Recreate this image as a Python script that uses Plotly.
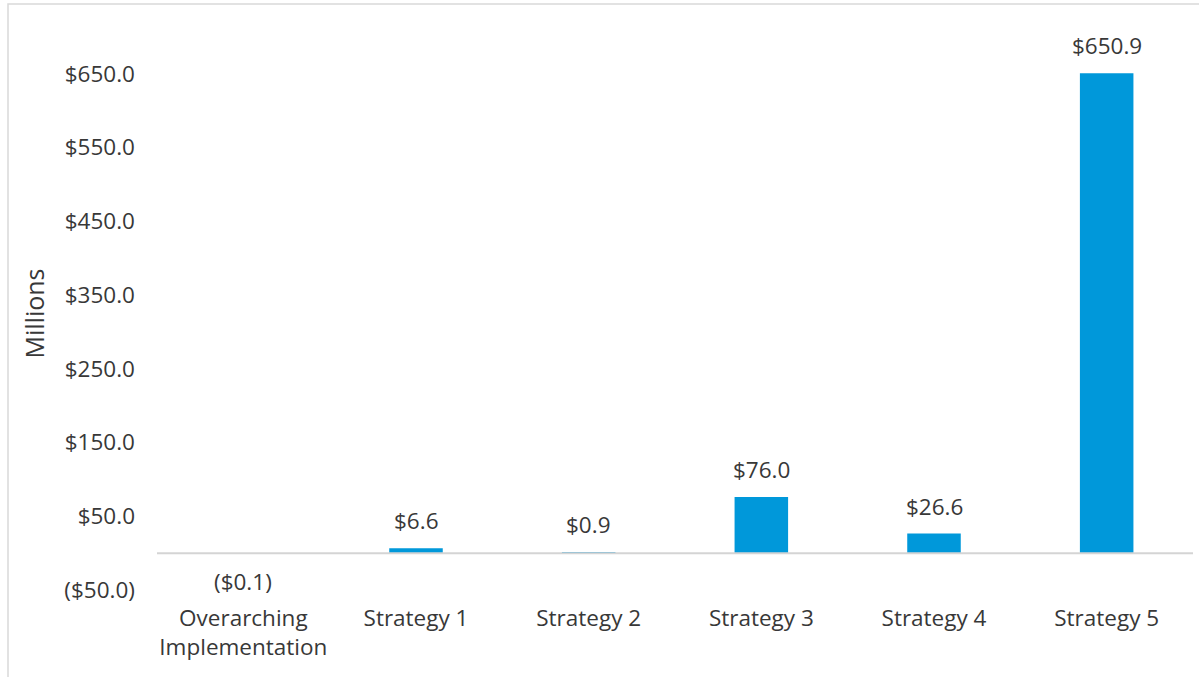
import plotly.graph_objects as go

categories = ["Overarching<br>Implementation", "Strategy 1", "Strategy 2", "Strategy 3", "Strategy 4", "Strategy 5"]
values = [-0.1, 6.6, 0.9, 76.0, 26.6, 650.9]
value_labels = ["($0.1)", "$6.6", "$0.9", "$76.0", "$26.6", "$650.9"]
tick_vals = [-50, 50, 150, 250, 350, 450, 550, 650]
tick_text = ["($50.0)", "$50.0", "$150.0", "$250.0", "$350.0", "$450.0", "$550.0", "$650.0"]

W, H = 1199, 677
L, R, T, B = 157, 6, 37, 87
FONT = "Open Sans"
TXT = "#383838"
BAR = "#0098DA"
FS = 22.5

fig = go.Figure()
fig.add_trace(go.Bar(x=categories, y=values, marker_color=BAR, marker_line_width=0,
                     hoverinfo="skip"))

for c, v, t in zip(categories, values, value_labels):
    fig.add_annotation(x=c, y=0 if v < 0 else v, text=t, showarrow=False,
                       yanchor="bottom" if v >= 0 else "top",
                       yshift=10 if v >= 0 else -11,
                       font=dict(family=FONT, size=FS, color=TXT))

pw = W - L - R
ph = H - T - B
def px_x(p):
    return (p - L) / pw
def px_y(p):
    return (H - B - p) / ph

fig.add_shape(type="rect", xref="paper", yref="paper",
              x0=px_x(8), x1=px_x(1210), y0=px_y(690), y1=px_y(4),
              line=dict(color="#d9d9d9", width=1.5), fillcolor="rgba(0,0,0,0)", layer="below")

# zero baseline drawn above the bars
fig.add_shape(type="line", xref="paper", yref="y", x0=0, x1=1, y0=0, y1=0,
              line=dict(color="#d4d4d4", width=2), layer="above")

fig.update_layout(
    width=W, height=H,
    margin=dict(l=L, r=R, t=T, b=B, pad=0),
    paper_bgcolor="white", plot_bgcolor="white",
    bargap=0.69,
    showlegend=False,
    font=dict(family=FONT, size=FS, color=TXT),
    xaxis=dict(showgrid=False, showline=False, ticks="", zeroline=False,
               tickfont=dict(family=FONT, size=FS, color=TXT),
               ticklabelstandoff=12),
    yaxis=dict(range=[-50, 700], tickvals=tick_vals, ticktext=tick_text,
               showgrid=False, showline=False, ticks="",
               zeroline=False,
               tickfont=dict(family=FONT, size=FS, color=TXT),
               ticklabelstandoff=21,
               title=dict(text="Millions", standoff=12,
                          font=dict(family=FONT, size=25, color=TXT))),
)

fig.write_html("out.html")
